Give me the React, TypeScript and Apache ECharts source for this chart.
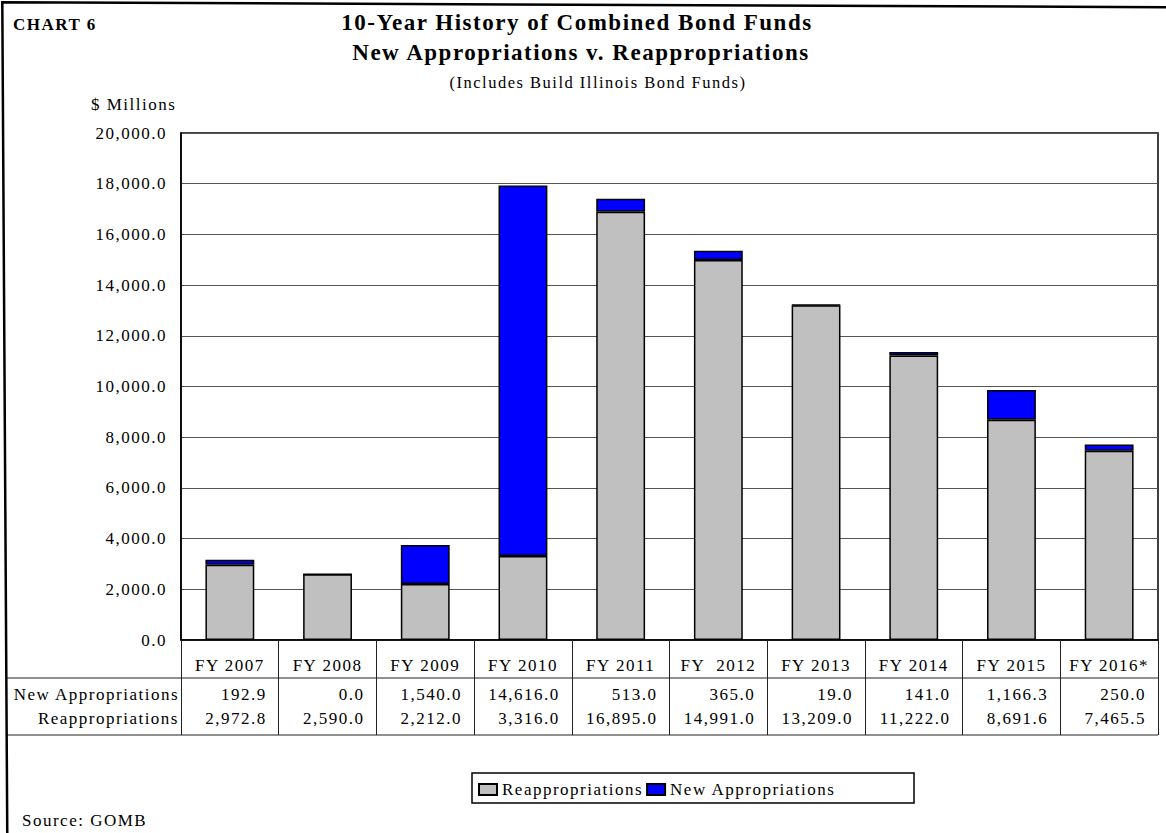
import React, { useEffect, useRef } from 'react';
import * as echarts from 'echarts';

const categories = ['FY 2007', 'FY 2008', 'FY 2009', 'FY 2010', 'FY 2011', 'FY  2012', 'FY 2013', 'FY 2014', 'FY 2015', 'FY 2016*'];
const newAppropriations = [192.9, 0.0, 1540.0, 14616.0, 513.0, 365.0, 19.0, 141.0, 1166.3, 250.0];
const reappropriations = [2972.8, 2590.0, 2212.0, 3316.0, 16895.0, 14991.0, 13209.0, 11222.0, 8691.6, 7465.5];
const rowLabels = ['New Appropriations', 'Reappropriations'];
const seriesNames = ['Reappropriations', 'New Appropriations'];
const yMin = 0;
const yMax = 20000;
const yInterval = 2000;

const FONT = '"Liberation Serif", "Times New Roman", Times, serif';
const fmt = (v: number) => v.toLocaleString('en-US', { minimumFractionDigits: 1, maximumFractionDigits: 1 });

export default function App() {
  const ref = useRef<HTMLDivElement>(null);

  useEffect(() => {
    if (!ref.current) return;
    const chart = echarts.init(ref.current, undefined, { renderer: 'svg', width: 1166, height: 833 });
    const option: any = {
      animation: false,
      backgroundColor: '#fff',
      textStyle: { fontFamily: FONT },
      grid: { left: 181, right: 8, top: 133, bottom: 193, show: true, borderColor: '#000', borderWidth: 1.5, containLabel: false },
      legend: {
        left: 478,
        top: 781,
        padding: 0,
        icon: 'rect',
        itemWidth: 18,
        itemHeight: 11,
        itemGap: 27,
        selectedMode: false,
        data: seriesNames,
        textStyle: { fontSize: 17, fontFamily: FONT, color: '#000' },
      },
      xAxis: {
        type: 'category',
        data: categories,
        axisLine: { lineStyle: { color: '#000', width: 1.5 } },
        axisTick: { show: true, interval: 0, length: 95, lineStyle: { color: '#222', width: 1 } },
        axisLabel: { interval: 0, margin: 17, fontSize: 17, fontFamily: FONT, color: '#000' },
      },
      yAxis: {
        type: 'value',
        min: yMin,
        max: yMax,
        interval: yInterval,
        axisLine: { show: true, lineStyle: { color: '#000', width: 1.5 } },
        axisTick: { show: false },
        splitLine: { lineStyle: { color: '#555', width: 1 } },
        axisLabel: { margin: 14, fontSize: 17, fontFamily: FONT, color: '#000', formatter: (v: number) => fmt(v) },
      },
      series: [
        {
          name: seriesNames[0],
          type: 'bar',
          stack: 'total',
          barWidth: '50%',
          data: reappropriations,
          itemStyle: { color: '#C0C0C0', borderColor: '#000', borderWidth: 1.5 },
        },
        {
          name: seriesNames[1],
          type: 'bar',
          stack: 'total',
          barWidth: '50%',
          data: newAppropriations,
          itemStyle: { color: '#0000FF', borderColor: '#000', borderWidth: 1.5 },
        },
      ],
    };
    chart.setOption(option);

    const c0 = chart.convertToPixel({ xAxisIndex: 0 }, categories[0]) as number;
    const c1 = chart.convertToPixel({ xAxisIndex: 0 }, categories[1]) as number;
    const catW = c1 - c0;
    const plotLeft = c0 - catW / 2;
    const plotRight = (chart.convertToPixel({ xAxisIndex: 0 }, categories[categories.length - 1]) as number) + catW / 2;
    const rowY = [694, 718];

    const txt = (text: string, x: number, y: number, size: number, align: string, weight = 'normal') => ({
      type: 'text',
      x,
      y,
      z: 10,
      style: { text, fill: '#000', fontSize: size, fontFamily: FONT, fontWeight: weight, align, verticalAlign: 'middle' },
    });

    const graphics: any[] = [
      { type: 'polyline', z: 10, shape: { points: [[7.3, 840], [2.3, 2.3], [1170, 7.2]] }, style: { stroke: '#000', lineWidth: 2.5, fill: null } },
      txt('CHART 6', 13, 24, 17, 'left', 'bold'),
      txt('10-Year History of Combined Bond Funds', 577, 22, 23, 'center', 'bold'),
      txt('New Appropriations v. Reappropriations', 581, 52, 23, 'center', 'bold'),
      txt('(Includes Build Illinois Bond Funds)', 598, 82, 16.5, 'center'),
      txt('$ Millions', 91, 104, 17, 'left'),
      txt('Source: GOMB', 22, 820, 17, 'left'),
      { type: 'rect', z: 1, shape: { x: 472, y: 773, width: 442, height: 30 }, style: { fill: 'none', stroke: '#000', lineWidth: 1.5 } },
      { type: 'line', z: 5, shape: { x1: 7, y1: 678, x2: plotRight, y2: 678 }, style: { stroke: '#222', lineWidth: 1 } },
      { type: 'line', z: 5, shape: { x1: 7, y1: 735, x2: plotRight, y2: 735 }, style: { stroke: '#222', lineWidth: 1 } },
      txt(rowLabels[0], plotLeft - 2, rowY[0], 17, 'right'),
      txt(rowLabels[1], plotLeft - 2, rowY[1], 17, 'right'),
    ];
    categories.forEach((cat, i) => {
      const cx = chart.convertToPixel({ xAxisIndex: 0 }, cat) as number;
      const right = cx + catW / 2 - 12;
      graphics.push(txt(fmt(newAppropriations[i]), right, rowY[0], 17, 'right'));
      graphics.push(txt(fmt(reappropriations[i]), right, rowY[1], 17, 'right'));
    });
    chart.setOption({ graphic: graphics });

    return () => chart.dispose();
  }, []);

  return (
    <>
      <style>{'body{margin:0;background:#fff}#chart-root text{letter-spacing:1.5px}'}</style>
      <div id="chart-root" ref={ref} style={{ position: 'absolute', left: 0, top: 0, width: 1166, height: 833 }} />
    </>
  );
}
